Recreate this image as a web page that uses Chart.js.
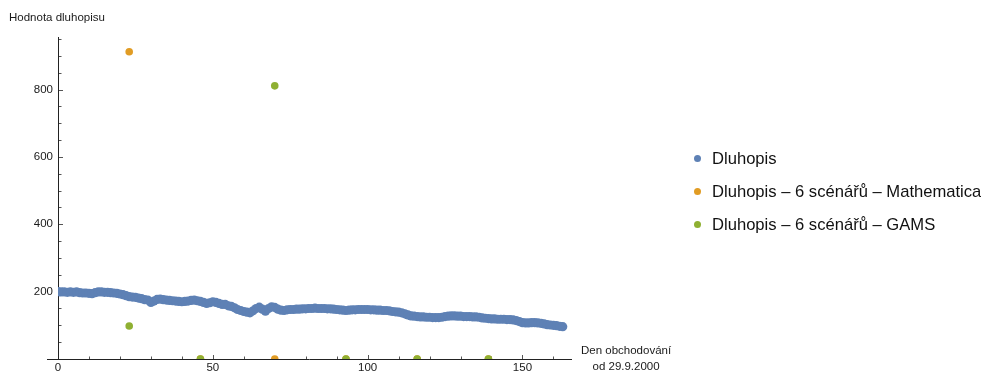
<!DOCTYPE html>
<html>
<head>
<meta charset="utf-8">
<script src="https://cdn.jsdelivr.net/npm/chart.js@4.4.1/dist/chart.umd.min.js"></script>
<style>
  html, body { margin: 0; padding: 0; background: #fff; }
  #wrap { position: relative; width: 981px; height: 374px; font-family: "Liberation Sans", Arial, sans-serif; color: #1a1a1a; overflow: hidden; }
  #chart { position: absolute; left: 0; top: 0; }
  .title { position: absolute; font-size: 11.5px; white-space: nowrap; line-height: 16px; }
  #ytitle { left: 9px; top: 9px; }
  #xtitle { left: 581px; top: 342px; text-align: center; }
  #legend { position: absolute; left: 694px; top: 147px; font-size: 16.6px; color: #111; }
  #legend div { height: 33px; line-height: 24px; white-space: nowrap; }
  #legend span.dot { display: inline-block; width: 7px; height: 7px; border-radius: 50%; margin-right: 11px; vertical-align: 2px; }
</style>
</head>
<body>
<div id="wrap">
  <canvas id="chart" width="981" height="374"></canvas>
  <div class="title" id="ytitle">Hodnota dluhopisu</div>
  <div class="title" id="xtitle">Den obchodování<br>od 29.9.2000</div>
  <div id="legend"></div>
</div>
<script>
// bond value per trading day (day 0 .. 163)
const bondValues = [
  200, 199, 199, 198, 199, 198, 199, 197, 196, 196,
  195, 194, 197, 199, 199, 198, 198, 197, 196, 195,
  193, 191, 188, 185, 184, 183, 181, 179, 176, 175,
  168, 172, 177, 178, 176, 175, 174, 173, 172, 171,
  170, 171, 172, 174, 175, 173, 171, 168, 165, 167,
  170, 168, 165, 162, 162, 158, 156, 152, 147, 144,
  141, 139, 137, 143, 150, 154, 148, 142, 150, 155,
  153, 148, 145, 144, 146, 147, 147, 148, 148, 149,
  149, 150, 150, 151, 150, 150, 150, 149, 149, 148,
  147, 146, 145, 144, 145, 146, 146, 147, 147, 147,
  147, 146, 146, 145, 145, 144, 144, 143, 141, 140,
  139, 137, 134, 131, 128, 127, 126, 125, 125, 124,
  124, 123, 123, 123, 124, 126, 127, 128, 128, 127,
  127, 126, 126, 126, 125, 125, 124, 122, 121, 120,
  119, 119, 118, 118, 118, 117, 117, 116, 114, 111,
  108, 107, 107, 108, 108, 107, 106, 104, 102, 101,
  100, 99, 97, 96
];

// 6-scenario results
const scenarioDays = [23, 46, 70, 93, 116, 139];
const mathematicaValues = [912, 0, 0, 0, 0, 0];
const gamsValues = [98, 0, 811, 0, 0, 0];

const seriesNames = ['Dluhopis', 'Dluhopis – 6 scénářů – Mathematica', 'Dluhopis – 6 scénářů – GAMS'];
const seriesColors = ['#5E81B5', '#E19C24', '#8FB032'];

const xTicks = [0, 10, 20, 30, 40, 50, 60, 70, 80, 90, 100, 110, 120, 130, 140, 150, 160];
const yTicks = [50, 100, 150, 200, 250, 300, 350, 400, 450, 500, 550, 600, 650, 700, 750, 800, 850, 900, 950];

const toPoints = (xs, ys) => ys.map((v, i) => ({ x: xs[i], y: v }));
const bondDays = bondValues.map((v, i) => i);

// Mathematica-style axes: lines crossing at origin, ticks pointing inward
const mmaAxes = {
  id: 'mmaAxes',
  beforeDatasetsDraw(chart) {
    const { ctx, chartArea: a, scales: { x, y } } = chart;
    const x0 = Math.round(x.getPixelForValue(0)) + 0.5;
    const y0 = Math.round(y.getPixelForValue(0)) + 0.5;
    ctx.save();
    ctx.strokeStyle = '#555';
    ctx.lineWidth = 1;
    ctx.beginPath();
    x.ticks.forEach(t => {
      const px = Math.round(x.getPixelForValue(t.value)) + 0.5;
      ctx.moveTo(px, y0);
      ctx.lineTo(px, y0 - (t.value % 50 ? 3 : 4.5));
    });
    y.ticks.forEach(t => {
      const py = Math.round(y.getPixelForValue(t.value)) + 0.5;
      ctx.moveTo(x0, py);
      ctx.lineTo(x0 + (t.value % 200 ? 3 : 4.5), py);
    });
    ctx.stroke();
    ctx.strokeStyle = '#222';
    ctx.beginPath();
    ctx.moveTo(a.left - 11, y0);
    ctx.lineTo(a.right, y0);
    ctx.moveTo(x0, a.top);
    ctx.lineTo(x0, y0);
    ctx.stroke();
    ctx.restore();
  }
};

const clipBottom = { left: false, top: false, right: false, bottom: 0 };
const tickFont = { family: '"Liberation Sans", Arial, sans-serif', size: 11.5 };

const chart = new Chart(document.getElementById('chart'), {
  type: 'scatter',
  data: {
    datasets: [
      {
        label: seriesNames[0],
        data: toPoints(bondDays, bondValues),
        backgroundColor: seriesColors[0],
        borderWidth: 0,
        pointRadius: 4.6,
        order: 3
      },
      {
        label: seriesNames[1],
        data: toPoints(scenarioDays, mathematicaValues),
        backgroundColor: seriesColors[1],
        borderWidth: 0,
        pointRadius: 3.8,
        clip: clipBottom,
        order: 2
      },
      {
        label: seriesNames[2],
        data: toPoints(scenarioDays, gamsValues),
        backgroundColor: seriesColors[2],
        borderWidth: 0,
        pointRadius: 3.8,
        clip: clipBottom,
        order: 1
      }
    ]
  },
  options: {
    responsive: false,
    animation: false,
    layout: { padding: { left: 0, top: 37, right: 409, bottom: 0 } },
    plugins: { legend: { display: false }, tooltip: { enabled: false } },
    scales: {
      x: {
        type: 'linear',
        min: 0,
        max: 166,
        grid: { display: false, drawTicks: false },
        border: { display: false },
        afterBuildTicks: s => { s.ticks = xTicks.map(v => ({ value: v })); },
        afterFit: s => { s.height = 15; },
        ticks: {
          autoSkip: false,
          maxRotation: 0,
          padding: 2,
          color: '#1a1a1a',
          font: tickFont,
          callback: v => (v % 50 === 0 ? String(v) : '')
        }
      },
      y: {
        min: 0,
        max: 956,
        grid: { display: false, drawTicks: false },
        border: { display: false },
        afterBuildTicks: s => { s.ticks = yTicks.map(v => ({ value: v })); },
        afterFit: s => { s.width = 58; },
        ticks: {
          autoSkip: false,
          padding: 5,
          color: '#1a1a1a',
          font: tickFont,
          callback: v => (v % 200 === 0 ? String(v) : '')
        }
      }
    }
  },
  plugins: [mmaAxes]
});

// legend as html, built from the chart's datasets
document.getElementById('legend').innerHTML = chart.data.datasets
  .map(d => `<div><span class="dot" style="background:${d.backgroundColor}"></span>${d.label}</div>`)
  .join('');
</script>
</body>
</html>
